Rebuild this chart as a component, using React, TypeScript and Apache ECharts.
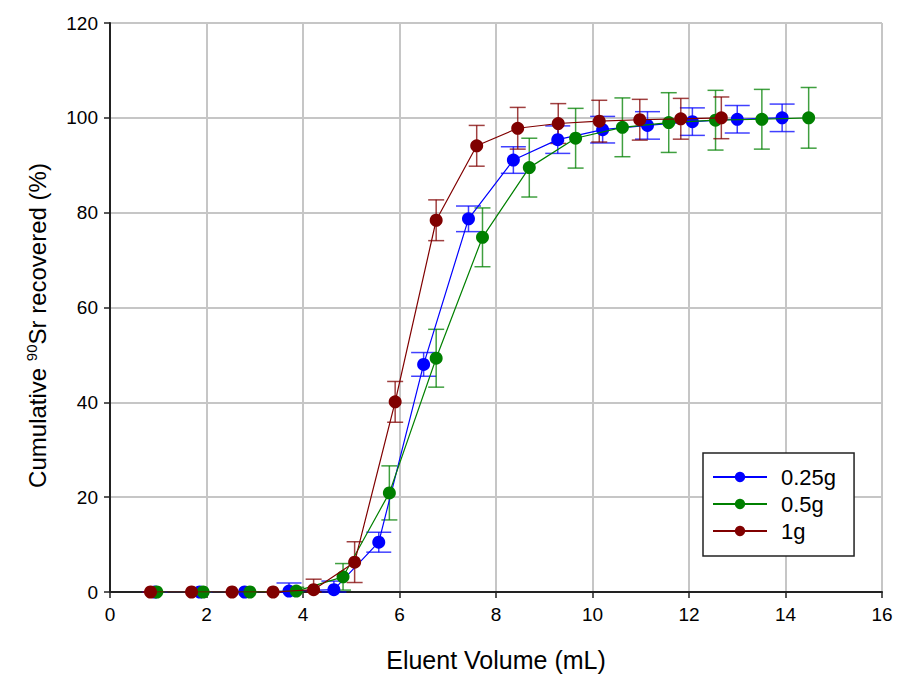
import React, { useEffect, useRef } from "react";
import * as echarts from "echarts";

const seriesNames = ["0.25g", "0.5g", "1g"];
const colors = ["#0000ff", "#008000", "#800000"];

const blueX = [0.93, 1.86, 2.79, 3.71, 4.64, 5.57, 6.5, 7.43, 8.36, 9.28, 10.21, 11.14, 12.07, 13.0, 13.93];
const blueY = [0, 0, 0, 0.2, 0.5, 10.5, 48.0, 78.7, 91.1, 95.4, 97.5, 98.4, 99.2, 99.7, 100.0];
const blueErr = [0, 0, 0, 1.7, 1.8, 2.1, 2.5, 2.7, 2.8, 2.9, 2.8, 2.9, 2.9, 2.9, 2.9];

const greenX = [0.97, 1.93, 2.9, 3.86, 4.83, 5.79, 6.76, 7.72, 8.69, 9.65, 10.62, 11.58, 12.55, 13.51, 14.48];
const greenY = [0, 0, 0, 0.2, 3.2, 20.9, 49.3, 74.8, 89.5, 95.7, 98.0, 99.0, 99.5, 99.7, 100.0];
const greenErr = [0, 0, 0, 0.8, 2.8, 5.7, 6.1, 6.2, 6.2, 6.3, 6.2, 6.3, 6.3, 6.3, 6.4];

const redX = [0.84, 1.69, 2.53, 3.38, 4.22, 5.07, 5.91, 6.76, 7.6, 8.45, 9.29, 10.14, 10.98, 11.83, 12.67];
const redY = [0, 0, 0, 0, 0.5, 6.3, 40.1, 78.4, 94.1, 97.8, 98.8, 99.3, 99.6, 99.8, 100.0];
const redErr = [0, 0, 0, 0, 2.2, 4.3, 4.3, 4.3, 4.3, 4.4, 4.2, 4.4, 4.3, 4.3, 4.4];

const xTicks = { min: 0, max: 16, interval: 2 };
const yTicks = { min: 0, max: 120, interval: 20 };

const FONT = "Liberation Sans, Arial, sans-serif";

function errSeries(name: string, xs: number[], ys: number[], es: number[], color: string, capHalf: number, z: number) {
  return {
    type: "custom",
    name,
    z,
    data: xs.map((x, i) => [x, ys[i], es[i]]),
    encode: { x: 0, y: 1 },
    renderItem: (params: any, api: any) => {
      const x = api.value(0);
      const y = api.value(1);
      const e = api.value(2);
      const top = api.coord([x, y + e]);
      const bot = api.coord([x, Math.max(y - e, 0)]);
      const st = { stroke: color, lineWidth: 1.5, opacity: 0.75 };
      return {
        type: "group",
        children: [
          { type: "line", shape: { x1: top[0], y1: top[1], x2: bot[0], y2: bot[1] }, style: st },
          { type: "line", shape: { x1: top[0] - capHalf, y1: top[1], x2: top[0] + capHalf, y2: top[1] }, style: st },
          { type: "line", shape: { x1: bot[0] - capHalf, y1: bot[1], x2: bot[0] + capHalf, y2: bot[1] }, style: st },
        ],
      };
    },
  };
}

function lineSeries(name: string, xs: number[], ys: number[], color: string, z: number) {
  return {
    type: "line",
    name,
    z,
    data: xs.map((x, i) => [x, ys[i]]),
    symbol: "circle",
    symbolSize: 13,
    lineStyle: { color, width: 1.2 },
    itemStyle: { color },
  };
}

export default function App() {
  const ref = useRef<HTMLDivElement>(null);
  useEffect(() => {
    if (!ref.current) return;
    const chart = echarts.init(ref.current, null, { renderer: "svg" });
    chart.setOption({
      animation: false,
      backgroundColor: "#ffffff",
      textStyle: { fontFamily: FONT },
      grid: { left: 110, top: 23, width: 772, height: 570, containLabel: false },
      xAxis: {
        type: "value",
        min: xTicks.min,
        max: xTicks.max,
        interval: xTicks.interval,
        name: "Eluent Volume (mL)",
        nameLocation: "middle",
        nameGap: 55,
        nameTextStyle: { fontSize: 25, color: "#000", fontFamily: FONT },
        axisLine: { onZero: false, lineStyle: { color: "#222", width: 2 } },
        axisTick: { show: true, length: 6, lineStyle: { color: "#222", width: 1.5 } },
        axisLabel: { fontSize: 19, color: "#000", margin: 13, fontFamily: FONT },
        splitLine: { show: true, lineStyle: { color: "#c6c6c6", width: 2 } },
      },
      yAxis: {
        type: "value",
        min: yTicks.min,
        max: yTicks.max,
        interval: yTicks.interval,
        name: "Cumulative {sup|90}Sr recovered (%)",
        nameLocation: "middle",
        nameGap: 60,
        nameTextStyle: {
          fontSize: 24,
          color: "#000",
          fontFamily: FONT,
          padding: [0, 36, 0, 0],
          rich: {
            sup: { fontSize: 15, color: "#000", fontFamily: FONT, padding: [0, 0, 11, 0] },
          },
        },
        axisLine: { onZero: false, lineStyle: { color: "#222", width: 2 } },
        axisTick: { show: true, length: 6, lineStyle: { color: "#222", width: 1.5 } },
        axisLabel: { fontSize: 19, color: "#000", margin: 12, fontFamily: FONT },
        splitLine: { show: true, lineStyle: { color: "#c6c6c6", width: 2 } },
      },
      legend: {
        data: seriesNames,
        orient: "vertical",
        left: 703,
        top: 453,
        padding: [13, 18, 14, 9],
        itemWidth: 54,
        itemHeight: 13,
        itemGap: 5,
        backgroundColor: "#fff",
        borderColor: "#222",
        borderWidth: 1.5,
        borderRadius: 0,
        textStyle: { fontSize: 22, color: "#000", fontFamily: FONT, padding: [0, 0, 0, 9] },
      },
      series: [
        errSeries("e1", blueX, blueY, blueErr, colors[0], 12.5, 1),
        errSeries("e2", greenX, greenY, greenErr, colors[1], 8, 2),
        errSeries("e3", redX, redY, redErr, colors[2], 8, 3),
        lineSeries(seriesNames[0], blueX, blueY, colors[0], 4),
        lineSeries(seriesNames[1], greenX, greenY, colors[1], 5),
        lineSeries(seriesNames[2], redX, redY, colors[2], 6),
      ],
    });
    return () => chart.dispose();
  }, []);
  return <div ref={ref} style={{ position: "absolute", left: 0, top: 0, width: 897, height: 677 }} />;
}
